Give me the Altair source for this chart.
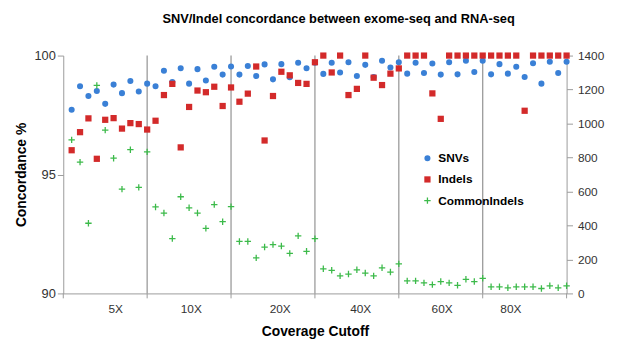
import altair as alt
import pandas as pd

# ---- data ----
snv = [97.72, 98.71, 98.30, 98.51, 97.97, 98.78, 98.42, 98.93, 98.49, 98.82,
       98.71, 99.36, 98.89, 99.47, 98.82, 99.43, 98.95, 99.53, 99.20, 99.54,
       99.20, 99.56, 99.14, 99.63, 99.00, 99.64, 99.09, 99.70, 99.47, 99.70,
       99.23, 99.70, 99.29, 99.72, 99.14, 99.61, 99.10, 99.78, 99.50, 99.72,
       99.24, 99.70, 99.27, 99.67, 99.20, 99.72, 99.21, 99.78, 99.31, 99.78,
       99.21, 99.64, 99.24, 99.53, 99.10, 99.68, 98.82, 99.74, 99.27, 99.74]
indel = [96.02, 96.78, 97.36, 95.66, 97.30, 97.37, 96.93, 97.16, 97.12, 96.89,
         97.26, 98.34, 98.81, 96.14, 97.84, 98.53, 98.46, 98.69, 97.88, 98.66,
         98.06, 98.40, 99.54, 96.43, 98.30, 99.32, 99.17, 98.85, 98.81, 99.72,
         100, 99.29, 100, 98.34, 98.60, 100, 99.07, 98.76, 99.24, 99.46,
         100, 100, 100, 98.41, 97.34, 100, 100, 100, 100, 100,
         100, 100, 100, 100, 97.68, 100, 100, 100, 100, 100]
common = [904, 773, 413, 1224, 961, 796, 614, 846, 624, 833,
          509, 473, 323, 569, 504, 473, 383, 523, 422, 511,
          306, 306, 209, 273, 287, 279, 236, 339, 248, 322,
          145, 136, 103, 114, 139, 120, 103, 151, 126, 174,
          74, 74, 62, 52, 70, 62, 48, 83, 70, 89,
          39, 39, 33, 39, 39, 39, 29, 45, 33, 45]

group_labels = ["5X", "10X", "20X", "40X", "60X", "80X"]
label_pos = [6.2, 15.2, 25.8, 35.4, 45.1, 53.3]
separators = [10, 20, 30, 40, 50]
tick_pos = [0, 10, 20, 30, 40, 50, 60]
series_names = ["SNVs", "Indels", "CommonIndels"]
series_colors = ["#3a80d6", "#d32a2a", "#3cba4a"]
plus_path = "M-1,-0.2H-0.2V-1H0.2V-0.2H1V0.2H0.2V1H-0.2V0.2H-1Z"

n = len(snv)
idx = list(range(1, n + 1))
left_df = pd.DataFrame({
    "x": idx + idx,
    "value": snv + indel,
    "series": ["SNVs"] * n + ["Indels"] * n,
})
right_df = pd.DataFrame({"x": idx, "value": common, "series": ["CommonIndels"] * n})

W, H = 510, 241
FONT = "Liberation Sans"
GRAY = "#9a9a9a"

xscale = alt.Scale(domain=[0, 60], nice=False, zero=False)
label_expr = "[" + ",".join(f"'{l}'" for l in group_labels) + "][indexof([" + \
    ",".join(str(p) for p in label_pos) + "], datum.value)]"

color = alt.Color("series:N", scale=alt.Scale(domain=series_names, range=series_colors),
                  legend=alt.Legend(title=None, orient="none", legendX=363, legendY=98,
                                    labelFont=FONT, labelFontSize=12, labelFontWeight="bold",
                                    labelColor="black", symbolSize=40, rowPadding=9.5,
                                    labelOffset=5, padding=0))
shape = alt.Shape("series:N", scale=alt.Scale(domain=series_names,
                                             range=["circle", "square", plus_path]),
                  legend=alt.Legend(title=None, orient="none", legendX=363, legendY=98))
size = alt.Size("series:N", scale=alt.Scale(domain=series_names, range=[38, 42, 90]), legend=None)

xaxis = alt.Axis(values=label_pos, labelExpr=label_expr, ticks=False, title="Coverage Cutoff",
                 labelFont=FONT, labelFontSize=12, labelColor="#333333", labelPadding=10,
                 titleFont=FONT, titleFontSize=14, titleFontWeight="bold", titleColor="black",
                 titlePadding=11, domainColor=GRAY, grid=False, labelFlush=False)

left = alt.Chart(left_df).mark_point(filled=True, opacity=1).encode(
    x=alt.X("x:Q", scale=xscale, axis=xaxis),
    y=alt.Y("value:Q", scale=alt.Scale(domain=[90, 100], nice=False, zero=False),
            axis=alt.Axis(orient="left", values=[90, 95, 100], title="Concordance %",
                          grid=False, domainColor=GRAY, tickColor=GRAY, tickSize=6,
                          labelFont=FONT, labelFontSize=13, labelColor="#333333", labelPadding=2,
                          titleFont=FONT, titleFontSize=14, titleFontWeight="bold",
                          titleColor="black", titlePadding=6)),
    color=color, shape=shape, size=size,
)

right = alt.Chart(right_df).mark_point(filled=True, opacity=1).encode(
    x=alt.X("x:Q", scale=xscale, axis=xaxis),
    y=alt.Y("value:Q", scale=alt.Scale(domain=[0, 1400], nice=False),
            axis=alt.Axis(orient="right", values=list(range(0, 1401, 200)), title=None,
                          format="d", grid=False, domainColor=GRAY, tickColor=GRAY, tickSize=6,
                          labelFont=FONT, labelFontSize=12, labelColor="#333333", labelPadding=5)),
    color=color, shape=shape, size=size,
)

sep = alt.Chart(pd.DataFrame({"x": separators})).mark_rule(color=GRAY, strokeWidth=1.3).encode(
    x=alt.X("x:Q", scale=xscale), y=alt.value(0), y2=alt.value(H))
ticks = alt.Chart(pd.DataFrame({"x": tick_pos})).mark_rule(color=GRAY, strokeWidth=1).encode(
    x=alt.X("x:Q", scale=xscale), y=alt.value(H), y2=alt.value(H + 5))

chart = alt.layer(sep, ticks, left, right).resolve_scale(y="independent").properties(
    width=W, height=H,
    title=alt.TitleParams("SNV/Indel concordance between exome-seq and RNA-seq",
                          font=FONT, fontSize=13, fontWeight="bold", color="black",
                          anchor="middle", frame="group", dx=24, offset=24),
    autosize=alt.AutoSizeParams(type="none"),
    padding={"left": 56, "top": 46, "right": 45, "bottom": 46},
).configure_view(stroke=None)

chart.save("out.html", embed_options={"renderer": "svg", "actions": False})
